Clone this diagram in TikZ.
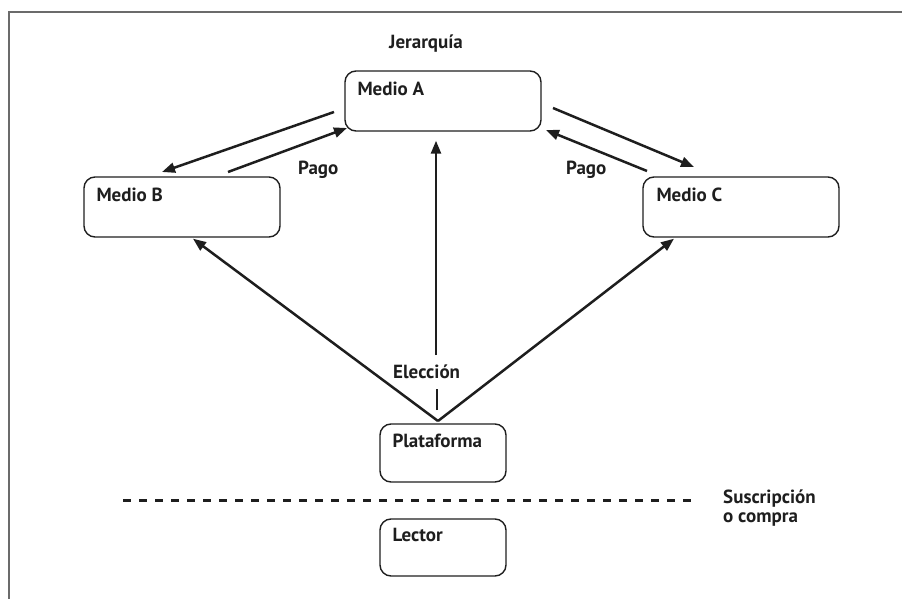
\documentclass[tikz,border=0pt]{standalone}
\usepackage{fontspec}
\setmainfont{PT Sans}
\usetikzlibrary{arrows.meta,calc}
\definecolor{ink}{HTML}{1E1E1E}
\definecolor{framegray}{HTML}{6B6B6B}
\begin{document}
\begin{tikzpicture}[x=1pt,y=-1pt,
  font=\fontsize{19}{21}\selectfont\bfseries,
  box/.style={draw=ink, line width=1.4pt, rounded corners=11pt,
    inner sep=0pt, minimum width=196pt, minimum height=60pt},
  smallbox/.style={box, minimum width=126pt, minimum height=58pt},
  lbl/.style={anchor=base west, inner sep=0pt, text=ink},
  conn/.style={draw=ink, line width=2.5pt},
  arr/.style={conn, -{Triangle[length=13pt,width=10pt]}},
  sep/.style={draw=ink, line width=3pt, dash pattern=on 8pt off 8pt},
  border/.style={draw=framegray, line width=2pt}]
\useasboundingbox (0,0) rectangle (902,599);

% outer frame (top and left edges)
\draw[border] (9,599) -- (9,12) -- (902,12);

% media boxes
\node[box] (A) at (443,101) {};
\node[box] (B) at (182,207) {};
\node[box] (C) at (741,207) {};
\node[smallbox] (P) at (443,453) {};
\node[smallbox, minimum height=57pt] (L) at (443,547.5) {};

\node[lbl] (tA) at ($(A.north west)+(13,25)$) {Medio A};
\node[lbl] (tB) at ($(B.north west)+(13,25)$) {Medio B};
\node[lbl] (tC) at ($(C.north west)+(14,25)$) {Medio C};
\node[lbl] (tP) at ($(P.north west)+(13,24)$) {Plataforma};
\node[lbl] (tL) at ($(L.north west)+(13,23)$) {Lector};

% free labels
\node[lbl] (jer) at (389,49) {Jerarquía};
\node[lbl] (pagoB) at (298,175) {Pago};
\node[lbl] (pagoC) at (566,175) {Pago};
\node[lbl] (elec) at (393,378) {Elección};
\node[lbl] (sus1) at (723,503) {Suscripción};
\node[lbl] (sus2) at (723,522) {o compra};

% arrow end points
\coordinate (ab0) at (334,112);
\coordinate (ab1) at (162,172);
\coordinate (ba0) at (228,172);
\coordinate (ba1) at (347,128);
\coordinate (ac0) at (553,108);
\coordinate (ac1) at (694,167);
\coordinate (ca0) at (647,171);
\coordinate (ca1) at (546,130);
\coordinate (apex) at (438,421);
\coordinate (vlow) at (437,410);
\coordinate (vgapA) at (437,389);
\coordinate (vgapB) at (436,355);
\coordinate (vtop) at ($(A.south)+(-7,9)$);
\coordinate (btip) at ($(B.south)+(11,1)$);
\coordinate (ctip) at ($(C.south)+(-67,1)$);

% exchanges between media
\draw[arr] (ab0) -- (ab1);
\draw[arr] (ba0) -- (ba1);
\draw[arr] (ac0) -- (ac1);
\draw[arr] (ca0) -- (ca1);

% choice made from the platform
\draw[arr] (apex) -- (btip);
\draw[arr] (apex) -- (ctip);
\draw[conn] (vlow) -- (vgapA);
\draw[arr] (vgapB) -- (vtop);

% subscription / purchase divider
\draw[sep] (123,500) -- (693,500);
\end{tikzpicture}
\end{document}
